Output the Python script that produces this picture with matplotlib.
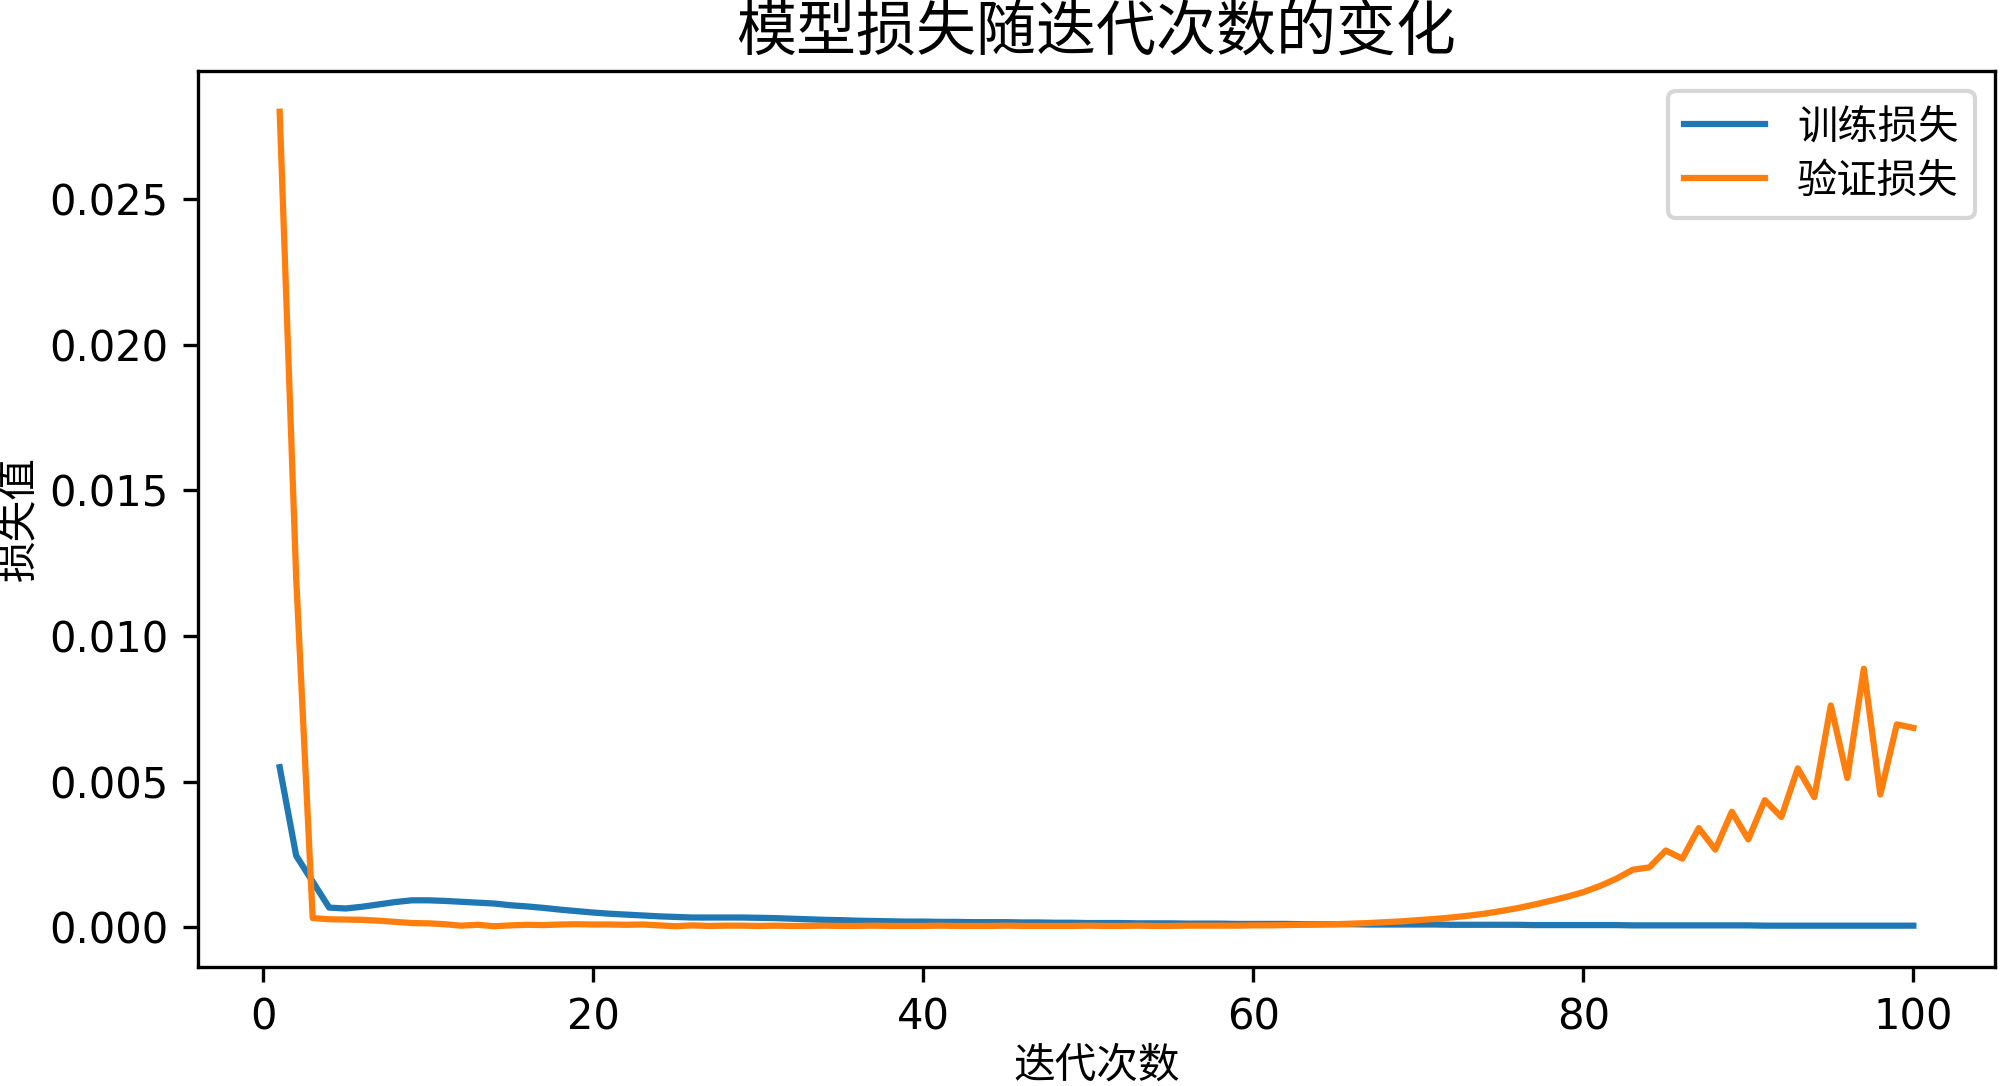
import matplotlib
matplotlib.use("Agg")
import matplotlib.pyplot as plt

plt.rcParams["font.family"] = ["DejaVu Sans", "Noto Sans CJK SC"]
plt.rcParams["axes.unicode_minus"] = False

epochs = list(range(1, 101))

train_loss = [
    0.00550, 0.00246, 0.00157, 0.00068, 0.00065, 0.00071, 0.00079, 0.00087, 0.00093, 0.00093,
    0.00091, 0.00088, 0.00085, 0.00082, 0.00076, 0.00072, 0.00067, 0.00061, 0.00056, 0.00051,
    0.00047, 0.00044, 0.00041, 0.00038, 0.00036, 0.00034, 0.00034, 0.00034, 0.00034, 0.00033,
    0.00032, 0.00030, 0.00028, 0.00026, 0.00025, 0.00023, 0.00022, 0.00021, 0.00020, 0.00020,
    0.00019, 0.00019, 0.00018, 0.00018, 0.00018, 0.00017, 0.00017, 0.00016, 0.00016, 0.00015,
    0.00015, 0.00015, 0.00014, 0.00014, 0.00014, 0.00013, 0.00013, 0.00013, 0.00012, 0.00012,
    0.00012, 0.00012, 0.00011, 0.00011, 0.00011, 0.00011, 0.00010, 0.00010, 0.00010, 0.00010,
    0.00010, 0.00009, 0.00009, 0.00009, 0.00009, 0.00009, 0.00008, 0.00008, 0.00008, 0.00008,
    0.00008, 0.00008, 0.00007, 0.00007, 0.00007, 0.00007, 0.00007, 0.00007, 0.00007, 0.00007,
    0.00006, 0.00006, 0.00006, 0.00006, 0.00006, 0.00006, 0.00006, 0.00006, 0.00006, 0.00006,
]

val_loss = [
    0.02800, 0.01200, 0.00032, 0.00028, 0.00027, 0.00026, 0.00023, 0.00019, 0.00015, 0.00014,
    0.00011, 0.00006, 0.00009, 0.00004, 0.00007, 0.00009, 0.00008, 0.00010, 0.00011, 0.00010,
    0.00010, 0.00009, 0.00010, 0.00007, 0.00004, 0.00007, 0.00005, 0.00006, 0.00006, 0.00005,
    0.00006, 0.00005, 0.00005, 0.00006, 0.00005, 0.00005, 0.00006, 0.00005, 0.00005, 0.00005,
    0.00006, 0.00005, 0.00005, 0.00005, 0.00006, 0.00005, 0.00005, 0.00005, 0.00005, 0.00006,
    0.00005, 0.00005, 0.00006, 0.00005, 0.00005, 0.00006, 0.00006, 0.00006, 0.00006, 0.00007,
    0.00007, 0.00008, 0.00009, 0.00010, 0.00011, 0.00013, 0.00015, 0.00018, 0.00021, 0.00025,
    0.00029, 0.00034, 0.00040, 0.00047, 0.00056, 0.00066, 0.00078, 0.00091, 0.00105, 0.00121,
    0.00142, 0.00167, 0.00198, 0.00206, 0.00264, 0.00236, 0.00341, 0.00267, 0.00397, 0.00302,
    0.00437, 0.00379, 0.00546, 0.00447, 0.00762, 0.00513, 0.00888, 0.00456, 0.00697, 0.00685,
]

fig = plt.figure(figsize=(2000 / 300, 1086 / 300), dpi=300)
ax = fig.add_axes([0.099, 0.1096, 0.8985, 0.825])

ax.plot(epochs, train_loss, label="训练损失")
ax.plot(epochs, val_loss, label="验证损失")

ax.set_title("模型损失随迭代次数的变化", fontsize=14.4, pad=5)
ax.set_xlabel("迭代次数", labelpad=1.5)
ax.set_ylabel("损失值", labelpad=2.5)
ax.legend(loc="upper right", fontsize=9.7, labelspacing=0.35, borderaxespad=0.5)

fig.savefig("out.png", dpi=300)
